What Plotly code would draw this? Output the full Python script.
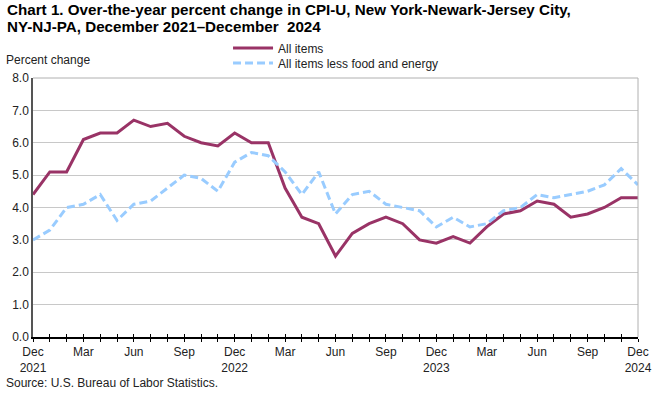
import plotly.graph_objects as go

months = ["Dec 2021","Jan 2022","Feb 2022","Mar 2022","Apr 2022","May 2022","Jun 2022","Jul 2022",
          "Aug 2022","Sep 2022","Oct 2022","Nov 2022","Dec 2022","Jan 2023","Feb 2023","Mar 2023",
          "Apr 2023","May 2023","Jun 2023","Jul 2023","Aug 2023","Sep 2023","Oct 2023","Nov 2023",
          "Dec 2023","Jan 2024","Feb 2024","Mar 2024","Apr 2024","May 2024","Jun 2024","Jul 2024",
          "Aug 2024","Sep 2024","Oct 2024","Nov 2024","Dec 2024"]
all_items = [4.4, 5.1, 5.1, 6.1, 6.3, 6.3, 6.7, 6.5, 6.6, 6.2, 6.0, 5.9, 6.3, 6.0, 6.0, 4.6,
             3.7, 3.5, 2.5, 3.2, 3.5, 3.7, 3.5, 3.0, 2.9, 3.1, 2.9, 3.4, 3.8, 3.9, 4.2, 4.1,
             3.7, 3.8, 4.0, 4.3, 4.3]
core = [3.0, 3.3, 4.0, 4.1, 4.4, 3.6, 4.1, 4.2, 4.6, 5.0, 4.9, 4.5, 5.4, 5.7, 5.6, 5.1,
        4.4, 5.1, 3.8, 4.4, 4.5, 4.1, 4.0, 3.9, 3.4, 3.7, 3.4, 3.5, 3.9, 4.0, 4.4, 4.3,
        4.4, 4.5, 4.7, 5.2, 4.7]
tick_labels = ["Dec<br>2021", "", "", "Mar", "", "", "Jun", "", "", "Sep", "", "",
               "Dec<br>2022", "", "", "Mar", "", "", "Jun", "", "", "Sep", "", "",
               "Dec<br>2023", "", "", "Mar", "", "", "Jun", "", "", "Sep", "", "",
               "Dec<br>2024"]
title_line1 = "<b>Chart 1. Over-the-year percent change in CPI-U, New York-Newark-Jersey City,</b>"
title_line2 = "<b>NY-NJ-PA, December 2021–December  2024</b>"

x = list(range(len(months)))
font = "Liberation Sans, Arial, sans-serif"

T, B, L, R = 78, 57, 31, 25
PH = 394 - T - B
PW = 664 - L - R

def py(pix):
    return (394 - B - pix) / PH

def px(pix):
    return (pix - L) / PW

fig = go.Figure()
fig.add_trace(go.Scatter(x=x, y=all_items, mode="lines", name="All items", legend="legend",
                         line=dict(color="#993366", width=3), text=months,
                         hovertemplate="%{text}: %{y:.1f}<extra></extra>"))
fig.add_trace(go.Scatter(x=x, y=core, mode="lines", name="All items less food and energy",
                         legend="legend2",
                         line=dict(color="#99ccff", width=3, dash="8px,4px"), text=months,
                         hovertemplate="%{text}: %{y:.1f}<extra></extra>"))
# invisible trace on an overlay axis to draw the inside half of the tick marks
fig.add_trace(go.Scatter(x=[0, 36], y=[None, None], xaxis="x2", showlegend=False,
                         hoverinfo="skip"))

legend_common = dict(xanchor="left", yanchor="middle", orientation="v",
                     font=dict(family=font, size=12, color="#222222"),
                     bgcolor="rgba(0,0,0,0)", itemwidth=40)

fig.update_layout(
    width=664, height=394,
    margin=dict(l=L, r=R, t=T, b=B),
    paper_bgcolor="white", plot_bgcolor="white",
    font=dict(family=font, size=12, color="#222222"),
    xaxis=dict(range=[0, 36], tickvals=x, ticktext=tick_labels, tickangle=0,
               showgrid=False, zeroline=False, showline=True, linecolor="#000000", linewidth=1.5,
               ticks="outside", ticklen=3, tickcolor="#000000", tickwidth=1,
               mirror=False, tickfont=dict(size=12, color="#222222")),
    xaxis2=dict(range=[0, 36], overlaying="x", tickvals=x, ticktext=[""] * len(x),
                ticks="inside", ticklen=3, tickcolor="#000000", tickwidth=1,
                showgrid=False, zeroline=False, showline=False, side="bottom",
                anchor="y"),
    yaxis=dict(range=[0, 8], dtick=1, tickformat=".1f", showgrid=True, gridcolor="#c8c8c8",
               gridwidth=1, zeroline=False, showline=True, linecolor="#555555", linewidth=1.5,
               ticks="", tickfont=dict(size=12, color="#222222")),
    legend=dict(x=px(227), y=py(48), **legend_common),
    legend2=dict(x=px(227), y=py(63), **legend_common),
    showlegend=True,
    shapes=[
        dict(type="line", xref="paper", yref="paper", x0=0, x1=1, y0=1, y1=1,
             line=dict(color="#b0b0b0", width=1)),
        dict(type="line", xref="paper", yref="paper", x0=1, x1=1, y0=0, y1=1,
             line=dict(color="#b0b0b0", width=1)),
    ],
    annotations=[
        dict(text=title_line1, xref="paper", yref="paper", x=px(3), y=py(9.5),
             xanchor="left", yanchor="middle", align="left", showarrow=False,
             font=dict(family=font, size=15.2, color="#000000")),
        dict(text=title_line2, xref="paper", yref="paper", x=px(3), y=py(26.5),
             xanchor="left", yanchor="middle", align="left", showarrow=False,
             font=dict(family=font, size=15.2, color="#000000")),
        dict(text="Percent change", xref="paper", yref="paper", x=px(2), y=py(60),
             xanchor="left", yanchor="middle", showarrow=False,
             font=dict(size=12, color="#222222")),
        dict(text="Source: U.S. Bureau of Labor Statistics.", xref="paper", yref="paper",
             x=px(2), y=py(383), xanchor="left", yanchor="middle", showarrow=False,
             font=dict(size=12, color="#222222")),
    ],
)

fig.write_html("out.html", config={"displayModeBar": False},
               post_script="document.body.style.margin='0';document.body.style.padding='0';")
